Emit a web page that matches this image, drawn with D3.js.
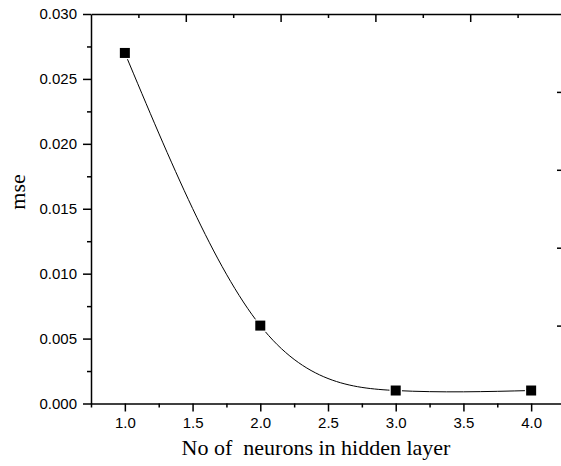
<!DOCTYPE html>
<html lang="en">
  <head>
    <meta charset="utf-8">
    <script src="https://d3js.org/d3.v7.min.js"></script>
  </head>
  <body style="margin:0;background:white">
    <div id="chart"></div>
    <script type="text/javascript">
const neurons = [1, 2, 3, 4];
const mse = [0.027, 0.006, 0.001, 0.001];
const xTicks = [1.0, 1.5, 2.0, 2.5, 3.0, 3.5, 4.0];
const xMinor = [0.75, 1.25, 1.75, 2.25, 2.75, 3.25, 3.75, 4.25];
const yTicks = [0, 0.005, 0.01, 0.015, 0.02, 0.025, 0.03];
const yMinor = [0.0025, 0.0075, 0.0125, 0.0175, 0.0225, 0.0275];

const width = 561, height = 466;
const plot = {left: 91, right: 565, top: 14, bottom: 403.5};
const sans = "Arial, 'Liberation Sans', sans-serif";
const serif = "'Liberation Serif', 'Times New Roman', serif";

let x = d3.scaleLinear()
  .domain([0.75, 4.25])
  .range([plot.left, plot.right]);

let y = d3.scaleLinear()
  .domain([0, 0.03])
  .range([plot.bottom, plot.top]);

// the opposite axes have their own 5-part scales
let xTop = d3.scaleLinear().domain([0, 5]).range([plot.left, plot.right]);
let yRight = d3.scaleLinear().domain([0, 5]).range([plot.bottom, plot.top]);

let svg = d3.select("#chart").append("svg")
  .attr("width", width)
  .attr("height", height);

function styleAxis(g, w) {
  g.attr("font-family", sans).attr("font-size", 15);
  g.select(".domain").attr("stroke-width", w);
  g.selectAll(".tick line").attr("stroke-width", w);
  g.selectAll(".tick text").attr("fill", "#000");
}

// bottom
svg.append("g")
  .attr("transform", `translate(0,${plot.bottom})`)
  .call(d3.axisBottom(x).tickValues(xMinor).tickSize(4).tickSizeOuter(0).tickFormat(""))
  .call(g => g.select(".domain").remove())
  .call(g => styleAxis(g, 1.5));
svg.append("g")
  .attr("transform", `translate(0,${plot.bottom})`)
  .call(d3.axisBottom(x).tickValues(xTicks).tickSize(8).tickSizeOuter(0)
    .tickPadding(6).tickFormat(d3.format(".1f")))
  .call(g => styleAxis(g, 1.5));

// left
svg.append("g")
  .attr("transform", `translate(${plot.left},0)`)
  .call(d3.axisLeft(y).tickValues(yMinor).tickSize(4).tickSizeOuter(0).tickFormat(""))
  .call(g => g.select(".domain").remove())
  .call(g => styleAxis(g, 1.5));
svg.append("g")
  .attr("transform", `translate(${plot.left},0)`)
  .call(d3.axisLeft(y).tickValues(yTicks).tickSize(8).tickSizeOuter(0)
    .tickPadding(6).tickFormat(d3.format(".3f")))
  .call(g => styleAxis(g, 1.5));

// top
svg.append("g")
  .attr("transform", `translate(0,${plot.top})`)
  .call(d3.axisTop(xTop).tickValues([0.5, 1.5, 2.5, 3.5, 4.5]).tickSize(-4).tickSizeOuter(0).tickFormat(""))
  .call(g => g.select(".domain").remove())
  .call(g => styleAxis(g, 1.5));
svg.append("g")
  .attr("transform", `translate(0,${plot.top})`)
  .call(d3.axisTop(xTop).tickValues([1, 2, 3, 4]).tickSize(-8).tickSizeOuter(0).tickFormat(""))
  .call(g => styleAxis(g, 1.5));

// right
svg.append("g")
  .attr("transform", `translate(${plot.right},0)`)
  .call(d3.axisRight(yRight).tickValues([0.5, 1.5, 2.5, 3.5, 4.5]).tickSize(-4).tickSizeOuter(0).tickFormat(""))
  .call(g => g.select(".domain").remove())
  .call(g => g.selectAll(".tick line").attr("stroke", "#e4e4e4"));
svg.append("g")
  .attr("transform", `translate(${plot.right},0)`)
  .call(d3.axisRight(yRight).tickValues([1, 2, 3, 4]).tickSize(-8).tickSizeOuter(0).tickFormat(""))
  .call(g => styleAxis(g, 1.5));

// spline through the points
let line = d3.line()
  .x((d, i) => x(neurons[i]))
  .y(d => y(d))
  .curve(d3.curveNatural);

svg.append("path")
  .datum(mse)
  .attr("fill", "none")
  .attr("stroke", "#000")
  .attr("stroke-width", 1)
  .attr("d", line);

svg.append("g")
  .selectAll("rect")
  .data(mse)
  .join("rect")
    .attr("x", (d, i) => x(neurons[i]) - 5)
    .attr("y", d => y(d) - 5)
    .attr("width", 10)
    .attr("height", 10)
    .attr("fill", "#000")
    .attr("stroke", "#fff")
    .attr("stroke-width", 2.5)
    .attr("paint-order", "stroke");

// axis titles
svg.append("text")
  .attr("x", 316)
  .attr("y", 455)
  .attr("text-anchor", "middle")
  .attr("font-family", serif)
  .attr("font-size", 22)
  .attr("fill", "#000")
  .style("white-space", "pre")
  .text("No of  neurons in hidden layer");

svg.append("text")
  .attr("transform", "translate(25,192) rotate(-90)")
  .attr("text-anchor", "middle")
  .attr("font-family", serif)
  .attr("font-size", 22)
  .attr("fill", "#000")
  .text("mse");
    </script>
  </body>
</html>
